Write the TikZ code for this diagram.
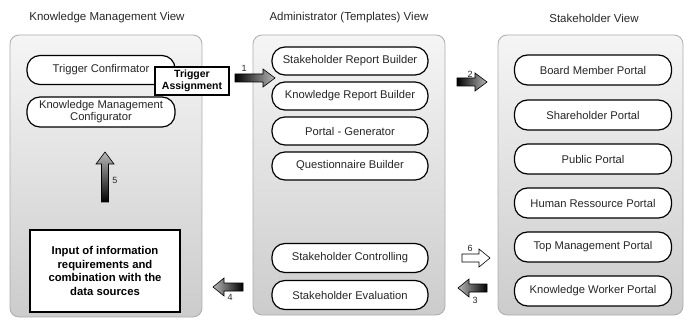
\documentclass[tikz,border=0pt]{standalone}
\usepackage{fontspec}
\setmainfont{Liberation Sans}
\usetikzlibrary{calc}
\begin{document}
\begin{tikzpicture}[x=1pt,y=-1pt,
  panel/.style={draw=gray!65, line width=0.8pt, rounded corners=9pt, top color=gray!8, bottom color=gray!40, inner sep=0pt},
  pill/.style={draw=black, line width=1.2pt, fill=white, rounded corners=13pt, minimum height=29pt, inner sep=1pt, font=\fontsize{11.2}{12.5}\selectfont, text=black!85, align=center},
  title/.style={font=\fontsize{11.5}{13}\selectfont, text=black!85, inner sep=0pt},
  boldbox/.style={draw=black, line width=1.3pt, fill=white, font=\bfseries\fontsize{11.3}{13.6}\selectfont, align=center, inner sep=1pt},
  num/.style={font=\fontsize{9}{10}\selectfont, text=black!85, inner sep=0pt},
  rarrow/.style={draw=black, line width=0.6pt, left color=black, right color=gray!55},
  larrow/.style={draw=black, line width=0.6pt, right color=black, left color=gray!55},
  uarrow/.style={draw=black, line width=0.6pt, bottom color=black, top color=gray!55},
  hollow/.style={draw=black, line width=0.6pt, fill=white}
]
\useasboundingbox (0,0) rectangle (684,320);

% titles
\node[title] (t1) at (107,18) {Knowledge Management View};
\node[title] (t2) at (349,18) {Administrator (Templates) View};
\node[title] (t3) at (594,18) {Stakeholder View};

% panels
\node[panel, minimum width=192pt, minimum height=282pt] (pk) at (106,176) {};
\node[panel, minimum width=192pt, minimum height=280pt] (pa) at (349,175) {};
\node[panel, minimum width=185pt, minimum height=280pt] (ps) at (590.5,175) {};

% knowledge management view
\node[pill, minimum width=148pt] (tc) at (101,70) {Trigger Confirmator};
\node[pill, minimum width=148pt, minimum height=30pt, font=\fontsize{11.2}{12}\selectfont] (kmc) at (101,112) {Knowledge Management\\Configurator};
\node[boldbox, minimum width=74pt, minimum height=28pt, font=\bfseries\fontsize{10.5}{12}\selectfont] (ta) at (192,81) {Trigger\\Assignment};
\node[boldbox, minimum width=150pt, minimum height=82pt] (inp) at (105,271) {Input of information\\requirements and\\combination with the\\data sources};

% administrator view
\node[pill, minimum width=156pt, minimum height=28pt] (srb) at (350,61) {Stakeholder Report Builder};
\node[pill, minimum width=156pt, minimum height=28pt] (krb) at (350,96) {Knowledge Report Builder};
\node[pill, minimum width=156pt, minimum height=28pt] (pg) at (350,131) {Portal - Generator};
\node[pill, minimum width=156pt, minimum height=28pt] (qb) at (350,166) {Questionnaire Builder};
\node[pill, minimum width=156pt, minimum height=29pt] (sc) at (350,258) {Stakeholder Controlling};
\node[pill, minimum width=156pt, minimum height=29pt] (se) at (350,295) {Stakeholder Evaluation};

% stakeholder view
\node[pill, minimum width=157pt, minimum height=30pt] (bmp) at (593,70) {Board Member Portal};
\node[pill, minimum width=157pt, minimum height=30pt] (shp) at (593,115) {Shareholder Portal};
\node[pill, minimum width=157pt, minimum height=30pt] (pp) at (593,159) {Public Portal};
\node[pill, minimum width=157pt, minimum height=30pt] (hrp) at (593,203) {Human Ressource Portal};
\node[pill, minimum width=157pt, minimum height=30pt] (tmp) at (593,247) {Top Management Portal};
\node[pill, minimum width=157pt, minimum height=30pt] (kwp) at (593,291) {Knowledge Worker Portal};

% arrows
\coordinate (a1) at (235,78);
\shade[rarrow] (a1) ++(0,-4) -- ++(28,0) -- ++(0,-5) -- ++(12,9) -- ++(-12,9) -- ++(0,-5) -- ++(-28,0) -- cycle;
\node[num] (n1) at (244,68) {1};

\coordinate (a2) at (457,82);
\shade[rarrow] (a2) ++(0,-4) -- ++(18,0) -- ++(0,-5) -- ++(12,9) -- ++(-12,9) -- ++(0,-5) -- ++(-18,0) -- cycle;
\node[num] (n2) at (470,74) {2};

\coordinate (a6) at (462,258);
\draw[hollow] (a6) ++(0,-4) -- ++(17,0) -- ++(0,-5) -- ++(11,9) -- ++(-11,9) -- ++(0,-5) -- ++(-17,0) -- cycle;
\node[num] (n6) at (470,248) {6};

\coordinate (a3) at (487,288);
\shade[larrow] (a3) ++(0,-4) -- ++(-18,0) -- ++(0,-5) -- ++(-11,9) -- ++(11,9) -- ++(0,-5) -- ++(18,0) -- cycle;
\node[num] (n3) at (475,300) {3};

\coordinate (a4) at (243,287);
\shade[larrow] (a4) ++(0,-4) -- ++(-19,0) -- ++(0,-5) -- ++(-11,9) -- ++(11,9) -- ++(0,-5) -- ++(19,0) -- cycle;
\node[num] (n4) at (230,297) {4};

\coordinate (a5) at (105,202);
\shade[uarrow] (a5) ++(-3.5,0) -- ++(0,-38) -- ++(-5.5,0) -- ++(9,-12) -- ++(9,12) -- ++(-5.5,0) -- ++(0,38) -- cycle;
\node[num] (n5) at (115,180) {5};

\end{tikzpicture}
\end{document}
